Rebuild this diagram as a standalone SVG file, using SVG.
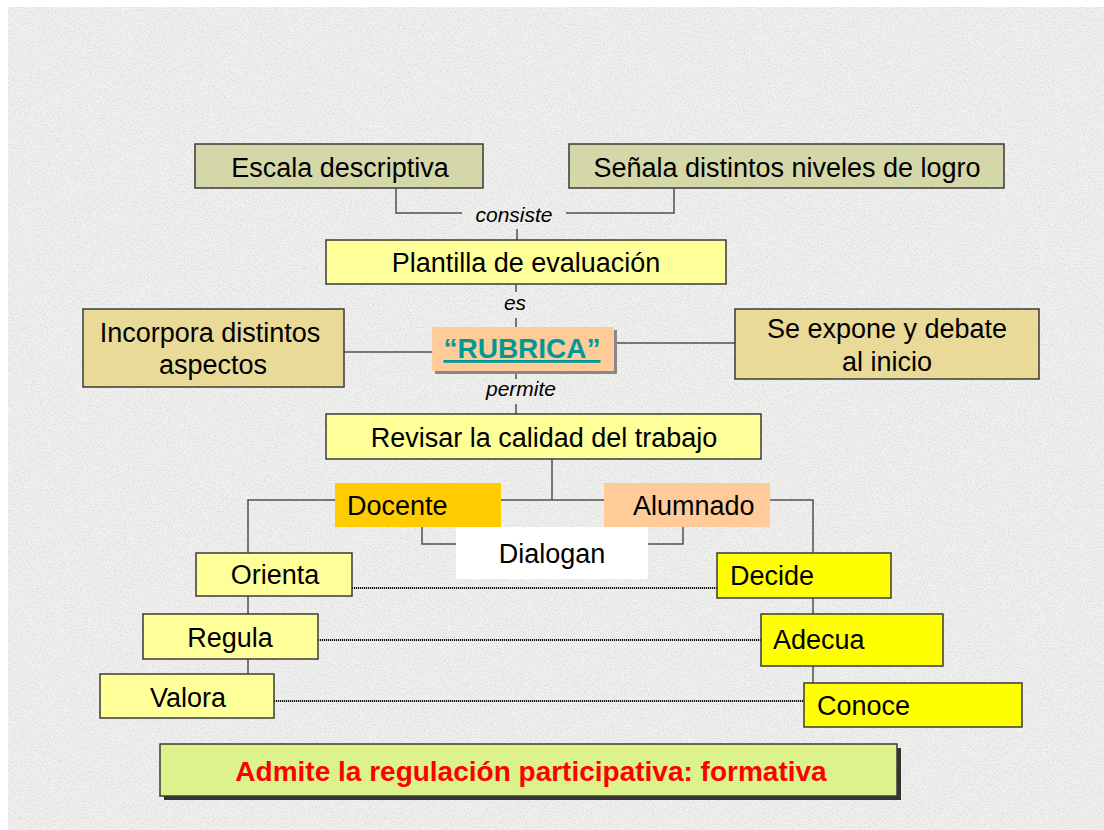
<svg xmlns="http://www.w3.org/2000/svg" width="1104" height="830" viewBox="0 0 1104 830">
<style>
.t{font-family:"Liberation Sans",Arial,sans-serif;font-size:27px;fill:#000}
.c{text-anchor:middle}
.lb{font-family:"Liberation Sans",Arial,sans-serif;font-size:21px;font-style:italic;text-anchor:middle;fill:#000}
.box{stroke:#3a3a3a;stroke-width:1.5}
.ln{stroke:#505050;stroke-width:1.5;fill:none}
.dot{stroke:#111;stroke-width:2;stroke-dasharray:1.2 0.8;fill:none}
</style>
<defs>
<filter id="noise" x="0" y="0" width="100%" height="100%">
<feTurbulence type="fractalNoise" baseFrequency="0.7" numOctaves="2" seed="7"/>
<feColorMatrix type="matrix" values="0 0 0 0 0.55  0 0 0 0 0.55  0 0 0 0 0.55  2.4 0 0 0 -1.0"/>
</filter>
</defs>
<rect x="0" y="0" width="1104" height="830" fill="#ffffff"/>
<rect x="8" y="7" width="1096" height="823" fill="#f1f1f0"/>
<rect x="8" y="7" width="1096" height="823" filter="url(#noise)" opacity="0.5"/>

<g id="connectors">
<polyline class="ln" points="396,188 396,213 462,213"/>
<polyline class="ln" points="566,213 674,213 674,188"/>
<line class="ln" x1="517" y1="229" x2="517" y2="240"/>
<line class="ln" x1="516" y1="284" x2="516" y2="292"/>
<line class="ln" x1="516" y1="318" x2="516" y2="327"/>
<line class="ln" x1="344" y1="352" x2="432" y2="352"/>
<line class="ln" x1="614" y1="343" x2="735" y2="343"/>
<line class="ln" x1="516" y1="371" x2="516" y2="379"/>
<line class="ln" x1="516" y1="404" x2="516" y2="414"/>
<line class="ln" x1="552" y1="459" x2="552" y2="500"/>
<polyline class="ln" points="248,553 248,500 813,500 813,553"/>
<polyline class="ln" points="422,527 422,544 456,544"/>
<polyline class="ln" points="683,527 683,544 648,544"/>
<line class="ln" x1="248" y1="596" x2="248" y2="614"/>
<line class="ln" x1="248" y1="659" x2="248" y2="674"/>
<line class="ln" x1="813" y1="598" x2="813" y2="614"/>
<line class="ln" x1="813" y1="666" x2="813" y2="683"/>
<line class="dot" x1="352" y1="588" x2="717" y2="588"/>
<line class="dot" x1="318" y1="640" x2="761" y2="640"/>
<line class="dot" x1="274" y1="701" x2="804" y2="701"/>
<text class="lb" x="514" y="222">consiste</text>
<text class="lb" x="515" y="310">es</text>
<text class="lb" x="521" y="396">permite</text>
</g>

<g id="escala">
<rect class="box" x="195" y="144" width="288" height="44" fill="#d4d8a8"/>
<text class="t c" x="340" y="177">Escala descriptiva</text>
</g>
<g id="senala">
<rect class="box" x="569" y="144" width="435" height="44" fill="#d4d8a8"/>
<text class="t c" x="787" y="177">Señala distintos niveles de logro</text>
</g>
<g id="plantilla">
<rect class="box" x="326" y="240" width="400" height="44" fill="#ffff99"/>
<text class="t c" x="526" y="272">Plantilla de evaluación</text>
</g>
<g id="incorpora">
<rect class="box" x="83" y="309" width="261" height="78" fill="#eada98"/>
<text class="t c" x="210" y="342">Incorpora distintos</text>
<text class="t c" x="213" y="374">aspectos</text>
</g>
<g id="rubrica">
<rect x="435" y="330" width="182" height="44" fill="#888"/>
<rect x="432" y="327" width="182" height="44" fill="#ffcc99"/>
<text class="t c" x="522" y="358" style="font-size:28px;font-weight:bold;fill:#009999;text-decoration:underline">“RUBRICA”</text>
</g>
<g id="expone">
<rect class="box" x="735" y="309" width="304" height="70" fill="#eada98"/>
<text class="t c" x="887" y="338">Se expone y debate</text>
<text class="t c" x="887" y="371">al inicio</text>
</g>
<g id="revisar">
<rect class="box" x="326" y="414" width="435" height="45" fill="#ffff99"/>
<text class="t c" x="544" y="447">Revisar la calidad del trabajo</text>
</g>
<g id="docente">
<rect x="335" y="483" width="166" height="44" fill="#ffcc00"/>
<text class="t" x="347" y="515">Docente</text>
</g>
<g id="alumnado">
<rect x="604" y="483" width="166" height="44" fill="#ffcc99"/>
<text class="t" x="633" y="515">Alumnado</text>
</g>
<g id="dialogan">
<rect x="456" y="527" width="192" height="52" fill="#ffffff"/>
<text class="t c" x="552" y="563">Dialogan</text>
</g>
<g id="orienta">
<rect class="box" x="196" y="553" width="156" height="43" fill="#ffff99"/>
<text class="t c" x="275" y="584">Orienta</text>
</g>
<g id="regula">
<rect class="box" x="143" y="614" width="175" height="45" fill="#ffff99"/>
<text class="t c" x="230" y="647">Regula</text>
</g>
<g id="valora">
<rect class="box" x="100" y="674" width="174" height="44" fill="#ffff99"/>
<text class="t c" x="188" y="707">Valora</text>
</g>
<g id="decide">
<rect class="box" x="717" y="553" width="174" height="45" fill="#ffff00"/>
<text class="t" x="730" y="585">Decide</text>
</g>
<g id="adecua">
<rect class="box" x="761" y="614" width="182" height="52" fill="#ffff00"/>
<text class="t" x="773" y="649">Adecua</text>
</g>
<g id="conoce">
<rect class="box" x="804" y="683" width="218" height="44" fill="#ffff00"/>
<text class="t" x="817" y="715">Conoce</text>
</g>
<g id="admite">
<rect x="164" y="748" width="737" height="52" fill="#333"/>
<rect class="box" x="160" y="744" width="737" height="52" fill="#dcf28a"/>
<text class="t c" x="531" y="781" style="font-size:28px;font-weight:bold;fill:#ff0000">Admite la regulación participativa: formativa</text>
</g>
</svg>
